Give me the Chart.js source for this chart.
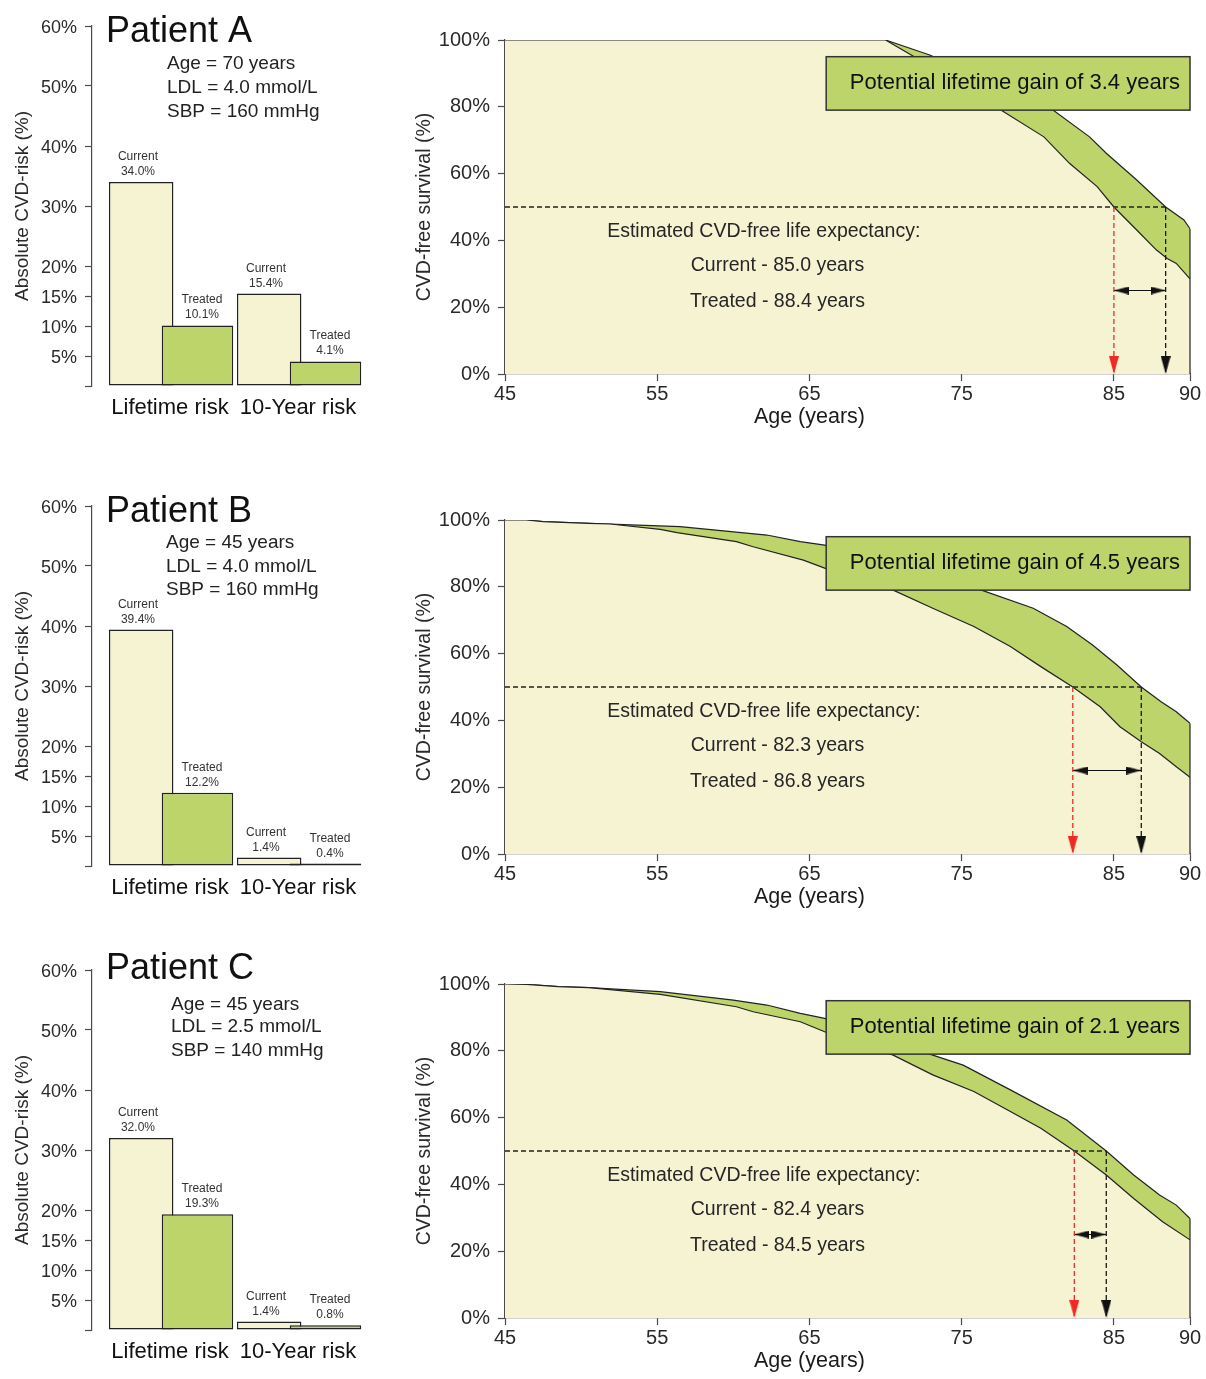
<!DOCTYPE html>
<html>
<head>
<meta charset="utf-8">
<script src="https://cdn.jsdelivr.net/npm/chart.js@4.4.1/dist/chart.umd.min.js"></script>
<style>
  html, body { margin: 0; padding: 0; background: #ffffff; overflow: hidden; }
  #wrap { position: relative; width: 1206px; height: 1379px; }
  #wrap canvas { position: absolute; }
</style>
</head>
<body>
<div id="wrap"></div>
<script>
// ---------------- data ----------------
const patientNames = ['Patient A', 'Patient B', 'Patient C'];
const patientAge = ['Age = 70 years', 'Age = 45 years', 'Age = 45 years'];
const patientLdl = ['LDL = 4.0 mmol/L', 'LDL = 4.0 mmol/L', 'LDL = 2.5 mmol/L'];
const patientSbp = ['SBP = 160 mmHg', 'SBP = 160 mmHg', 'SBP = 140 mmHg'];

const riskGroups = ['Lifetime risk', '10-Year risk'];
const riskTicks = [0, 5, 10, 15, 20, 30, 40, 50, 60];
const riskCurrentA = [34.0, 15.4];
const riskTreatedA = [10.1, 4.1];
const riskCurrentB = [39.4, 1.4];
const riskTreatedB = [12.2, 0.4];
const riskCurrentC = [32.0, 1.4];
const riskTreatedC = [19.3, 0.8];

const ageTicks = [45, 55, 65, 75, 85, 90];

// CVD-free survival (%) by age (years)
const currentAgesA = [45, 70, 71.8, 77.6, 80.4, 82.1, 83.9, 85.0, 86.5, 87.8, 88.5, 89.1, 90];
const currentSurvA = [100, 100, 95.2, 79.0, 71.0, 63.0, 56.1, 50.0, 43.1, 37.1, 34.6, 33.1, 28.5];
const treatedAgesA = [45, 70, 72.9, 81.0, 83.4, 84.5, 86.5, 88.4, 89.6, 90];
const treatedSurvA = [100, 100, 95.5, 79.0, 71.0, 66.1, 58.1, 50.0, 46.1, 43.5];

const currentAgesB = [45, 46.4, 47.5, 50.5, 51.9, 55.2, 56.3, 60.2, 61.3, 64.6, 66.0, 70.5, 73.1, 75.8, 78.2, 80.2, 82.3, 84.1, 85.4, 86.8, 88.0, 89.1, 90];
const currentSurvB = [100, 100, 99.5, 99.0, 98.8, 97.2, 96.2, 93.5, 92.0, 88.0, 85.6, 79.0, 73.6, 68.1, 62.1, 56.1, 50.0, 44.1, 38.1, 33.6, 30.1, 26.1, 23.0];
const treatedAgesB = [45, 46.4, 47.5, 50.5, 56.5, 62.2, 64.4, 66.0, 76.3, 79.7, 81.9, 83.6, 85.2, 86.8, 88.1, 89.1, 90];
const treatedSurvB = [100, 100, 99.5, 99.0, 98.0, 95.5, 93.5, 92.5, 79.0, 73.6, 68.1, 62.6, 56.6, 50.0, 45.6, 42.6, 39.1];

const currentAgesC = [45, 46.4, 48.5, 50.5, 55.2, 60.2, 61.3, 64.4, 66.0, 70.5, 73.1, 75.8, 78.2, 80.2, 82.4, 84.5, 86.3, 88.2, 90];
const currentSurvC = [100, 99.9, 99.2, 98.9, 96.9, 93.2, 91.7, 88.7, 85.7, 78.7, 72.8, 67.8, 61.8, 56.8, 50.0, 42.8, 35.8, 28.8, 23.4];
const treatedAgesC = [45, 46.4, 48.5, 50.5, 55.2, 60.0, 62.2, 64.4, 66.0, 73.1, 75.1, 78.2, 81.9, 84.5, 86.3, 88.0, 89.1, 90];
const treatedSurvC = [100, 99.9, 99.2, 98.9, 97.7, 95.2, 93.7, 91.2, 89.7, 78.7, 75.7, 68.3, 59.3, 50.0, 42.8, 36.8, 33.8, 29.8];

// CVD-free life expectancy (years)
const currentLE = [85.0, 82.3, 82.4];
const treatedLE = [88.4, 86.8, 84.5];

// ---------------- styling / layout ----------------
const FONT = '"Liberation Sans", Arial, Helvetica, sans-serif';
Chart.defaults.font.family = FONT;
Chart.defaults.color = '#222222';

const CREAM = '#F6F3D3';
const GREEN = '#BDD46B';
const INK = '#222222';
const AXIS = '#4a4a4a';
const RED = '#EE2A24';

const rowTops = [0, 480, 944];
const CANVAS_H = 435;
// text offsets measured from the top of each risk plot area
const titleBaseline = [16, 16, 9];
const infoX = [167, 166, 171];
const infoBaselines = [[43, 67, 91], [42, 66, 89], [40, 62, 86]];

const MEDIAN_LEVEL = 50;      // survival level defining life expectancy
const GAIN_ARROW_LEVEL = 25;  // height of the gain arrow
const groupOffset = { current: -0.225, treated: 0.215 };
const labelSlot = { current: -0.25, treated: 0.25 };

const wrap = document.getElementById('wrap');
function addCanvas(left, top, w, h) {
  const c = document.createElement('canvas');
  c.width = w; c.height = h;
  c.style.left = left + 'px'; c.style.top = top + 'px';
  c.style.width = w + 'px'; c.style.height = h + 'px';
  wrap.appendChild(c);
  return c;
}

// arrowhead image: tip sits at the image centre, pointing down
function makeArrowHead(len, width, color) {
  const c = document.createElement('canvas');
  c.width = width; c.height = len * 2;
  const g = c.getContext('2d');
  g.fillStyle = color;
  g.beginPath();
  g.moveTo(width / 2, len);
  g.lineTo(0, 0);
  g.lineTo(width, 0);
  g.closePath();
  g.fill();
  return c;
}
const arrowRed = makeArrowHead(18, 10, RED);
const arrowBlack = makeArrowHead(18, 10, '#111111');
const arrowSmall = makeArrowHead(15, 8, '#111111');

// ---------------- risk bar chart ----------------
const riskLabelsPlugin = {
  id: 'riskLabels',
  afterDatasetsDraw(chart, args, opts) {
    const { ctx, chartArea, scales: { x, y } } = chart;
    ctx.save();
    ctx.font = '12px ' + FONT;
    ctx.fillStyle = '#333333';
    ctx.textAlign = 'center';
    ctx.textBaseline = 'alphabetic';
    chart.data.datasets.forEach(ds => {
      ds.values.forEach((v, i) => {
        const px = x.getPixelForValue(i + ds.labelSlot);
        const py = y.getPixelForValue(v);
        ctx.fillText(ds.label, px, py - 22);
        ctx.fillText(v.toFixed(1) + '%', px, py - 7);
      });
    });
    const r = opts.row;
    const top = chartArea.top;
    ctx.fillStyle = '#111111';
    ctx.textAlign = 'left';
    ctx.font = '36px ' + FONT;
    ctx.fillText(patientNames[r], 106, top + titleBaseline[r]);
    ctx.font = '19px ' + FONT;
    ctx.fillStyle = '#222222';
    [patientAge[r], patientLdl[r], patientSbp[r]].forEach((t, k) => {
      ctx.fillText(t, infoX[r], top + infoBaselines[r][k]);
    });
    ctx.restore();
  }
};

function riskChart(row, current, treated) {
  const cv = addCanvas(0, rowTops[row], 390, CANVAS_H);
  const mk = (vals, off) => vals.map((v, i) => ({ x: i + off, y: v }));
  new Chart(cv, {
    type: 'bar',
    data: {
      datasets: [
        {
          label: 'Current', values: current, labelSlot: labelSlot.current,
          data: mk(current, groupOffset.current),
          backgroundColor: CREAM, borderColor: INK, borderWidth: 1.5, borderSkipped: false,
          grouped: false, categoryPercentage: 1, barPercentage: 2, maxBarThickness: 64.5,
          order: 2
        },
        {
          label: 'Treated', values: treated, labelSlot: labelSlot.treated,
          data: mk(treated, groupOffset.treated),
          backgroundColor: GREEN, borderColor: INK, borderWidth: 1.5, borderSkipped: false,
          grouped: false, categoryPercentage: 1, barPercentage: 2, maxBarThickness: 71.5,
          order: 1
        }
      ]
    },
    options: {
      responsive: false, animation: false, events: [], devicePixelRatio: 1,
      layout: { padding: { top: 26, right: 28, bottom: 4, left: 0 } },
      plugins: { legend: { display: false }, tooltip: { enabled: false }, riskLabels: { row } },
      scales: {
        x: {
          type: 'linear', offset: false, min: -0.609, max: 1.5,
          grid: { display: false, offset: false }, border: { display: false },
          afterBuildTicks: s => { s.ticks = riskGroups.map((_, i) => ({ value: i })); },
          afterFit: s => { s.height = 45; },
          ticks: {
            autoSkip: false, maxRotation: 0, padding: 1,
            font: { size: 22 }, color: '#111111',
            callback: v => riskGroups[v]
          }
        },
        y: {
          min: 0, max: 60,
          afterBuildTicks: s => { s.ticks = riskTicks.map(v => ({ value: v })); },
          afterFit: s => { s.width = 92; },
          grid: { display: true, drawOnChartArea: false, drawTicks: true, tickLength: 7, color: AXIS, tickWidth: 1.2 },
          border: { display: true, color: AXIS, width: 1.2 },
          ticks: { padding: 8, labelOffset: 2, font: { size: 18 }, color: '#2a2a2a', callback: v => (v === 0 ? '' : v + '%') },
          title: { display: true, text: 'Absolute CVD-risk (%)', font: { size: 19 }, color: '#2a2a2a', padding: { top: 11.6, bottom: 0 } }
        }
      }
    },
    plugins: [riskLabelsPlugin]
  });
}

// ---------------- survival chart ----------------
const survivalNotesPlugin = {
  id: 'survivalNotes',
  afterDatasetsDraw(chart, args, opts) {
    const { ctx, chartArea, scales: { x, y } } = chart;
    const r = opts.row;
    ctx.save();
    ctx.fillStyle = '#262626';
    ctx.textAlign = 'center';
    ctx.textBaseline = 'middle';
    ctx.font = '19.5px ' + FONT;
    ctx.fillText('Estimated CVD-free life expectancy:', x.getPixelForValue(62.0), y.getPixelForValue(42.5));
    ctx.fillText('Current - ' + currentLE[r].toFixed(1) + ' years', x.getPixelForValue(62.9), y.getPixelForValue(32.4));
    ctx.fillText('Treated - ' + treatedLE[r].toFixed(1) + ' years', x.getPixelForValue(62.9), y.getPixelForValue(21.7));

    const bx0 = x.getPixelForValue(66.1), bx1 = x.getPixelForValue(90);
    const by0 = y.getPixelForValue(95), by1 = y.getPixelForValue(79);
    ctx.fillStyle = GREEN;
    ctx.fillRect(bx0, by0, bx1 - bx0, by1 - by0);
    ctx.strokeStyle = '#333333';
    ctx.lineWidth = 1.5;
    ctx.strokeRect(bx0, by0, bx1 - bx0, by1 - by0);
    const gain = (treatedLE[r] - currentLE[r]).toFixed(1);
    ctx.fillStyle = '#111111';
    ctx.font = '22px ' + FONT;
    ctx.textAlign = 'right';
    ctx.fillText('Potential lifetime gain of ' + gain + ' years', bx1 - 10, (by0 + by1) / 2);

    // axis title, centred under age 65
    ctx.fillStyle = '#1a1a1a';
    ctx.textAlign = 'center';
    ctx.font = '21.5px ' + FONT;
    ctx.fillText('Age (years)', x.getPixelForValue(65), chartArea.bottom + 43);
    ctx.restore();
  }
};

function survivalChart(row, cAges, cSurv, tAges, tSurv) {
  const cv = addCanvas(390, rowTops[row], 816, CANVAS_H);
  const pts = (ages, surv) => ages.map((a, i) => ({ x: a, y: surv[i] }));
  const cLE = currentLE[row], tLE = treatedLE[row];
  const plain = { pointRadius: 0, fill: false, tension: 0, clip: false };
  new Chart(cv, {
    type: 'line',
    data: {
      datasets: [
        Object.assign({}, plain, {
          label: 'Current life expectancy',
          data: [{ x: cLE, y: MEDIAN_LEVEL }, { x: cLE, y: 0 }],
          borderColor: RED, borderWidth: 1.3, borderDash: [5, 3],
          pointRadius: [0, 1], pointStyle: arrowRed, order: 0
        }),
        Object.assign({}, plain, {
          label: 'Treated life expectancy',
          data: [{ x: tLE, y: MEDIAN_LEVEL }, { x: tLE, y: 0 }],
          borderColor: '#1a1a1a', borderWidth: 1.3, borderDash: [5, 3],
          pointRadius: [0, 1], pointStyle: arrowBlack, order: 0
        }),
        Object.assign({}, plain, {
          label: 'Median',
          data: [{ x: ageTicks[0], y: MEDIAN_LEVEL }, { x: tLE, y: MEDIAN_LEVEL }],
          borderColor: '#222222', borderWidth: 1.3, borderDash: [5, 3], order: 0
        }),
        Object.assign({}, plain, {
          label: 'Gain',
          data: [{ x: cLE, y: GAIN_ARROW_LEVEL }, { x: tLE, y: GAIN_ARROW_LEVEL }],
          borderColor: '#111111', borderWidth: 1.2,
          pointRadius: [1, 1], pointStyle: arrowSmall, pointRotation: [90, -90], order: 0
        }),
        Object.assign({}, plain, {
          label: 'Edge',
          data: [{ x: tAges[tAges.length - 1], y: 0 }, { x: tAges[tAges.length - 1], y: tSurv[tSurv.length - 1] }],
          borderColor: INK, borderWidth: 1.2, order: 0
        }),
        {
          label: 'Current', data: pts(cAges, cSurv), fill: 'origin',
          backgroundColor: CREAM, borderColor: INK, borderWidth: 1.2, pointRadius: 0, tension: 0, order: 1
        },
        {
          label: 'Treated', data: pts(tAges, tSurv), fill: 'origin',
          backgroundColor: GREEN, borderColor: INK, borderWidth: 1.2, pointRadius: 0, tension: 0, order: 2
        }
      ]
    },
    options: {
      responsive: false, animation: false, events: [], devicePixelRatio: 1,
      layout: { padding: { top: 40, right: 16, bottom: 3, left: 0 } },
      plugins: { legend: { display: false }, tooltip: { enabled: false }, survivalNotes: { row } },
      scales: {
        x: {
          type: 'linear', min: 45, max: 90,
          afterBuildTicks: s => { s.ticks = ageTicks.map(v => ({ value: v })); },
          afterFit: s => { s.height = 58; },
          grid: { display: true, drawOnChartArea: false, drawTicks: true, tickLength: 7, color: AXIS, tickWidth: 1.2 },
          border: { display: true, color: AXIS, width: 1.2 },
          ticks: { autoSkip: false, maxRotation: 0, padding: 1, font: { size: 20 }, color: '#2a2a2a' }
        },
        y: {
          min: 0, max: 100,
          ticks: { stepSize: 20, padding: 8, font: { size: 20 }, color: '#2a2a2a', callback: v => v + '%' },
          afterFit: s => { s.width = 115; },
          grid: { display: true, drawOnChartArea: false, drawTicks: true, tickLength: 7, color: AXIS, tickWidth: 1.2 },
          border: { display: true, color: AXIS, width: 1.2 },
          title: { display: true, text: 'CVD-free survival (%)', font: { size: 19.5 }, color: '#2a2a2a', padding: { top: 22.6, bottom: 0 } }
        }
      }
    },
    plugins: [survivalNotesPlugin]
  });
}

riskChart(0, riskCurrentA, riskTreatedA);
riskChart(1, riskCurrentB, riskTreatedB);
riskChart(2, riskCurrentC, riskTreatedC);
survivalChart(0, currentAgesA, currentSurvA, treatedAgesA, treatedSurvA);
survivalChart(1, currentAgesB, currentSurvB, treatedAgesB, treatedSurvB);
survivalChart(2, currentAgesC, currentSurvC, treatedAgesC, treatedSurvC);
</script>
</body>
</html>
